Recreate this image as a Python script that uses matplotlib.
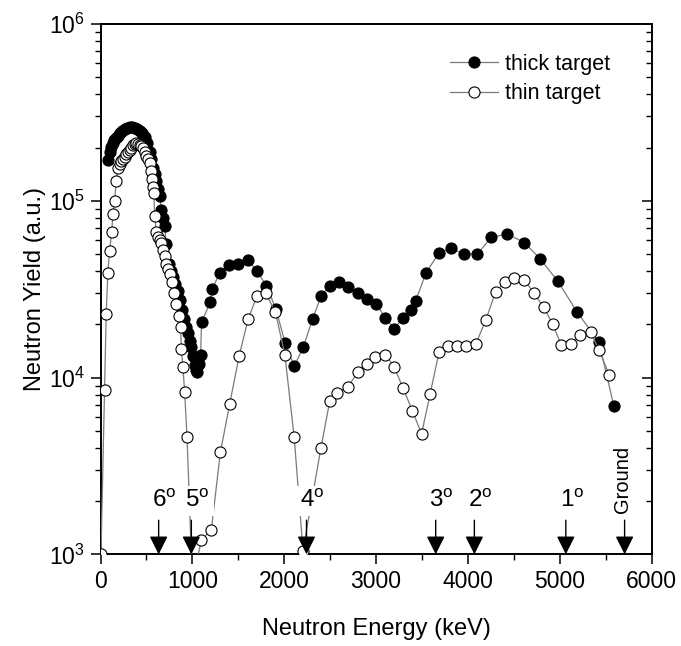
import matplotlib
matplotlib.use("Agg")
import matplotlib.pyplot as plt
from matplotlib.ticker import MultipleLocator, LogLocator, NullFormatter

plt.rcParams['font.family'] = ['Liberation Sans', 'DejaVu Sans']
plt.rcParams['mathtext.default'] = 'regular'

# neutron spectra (keV, a.u.)
thick_energy = [80, 98, 116, 134, 152, 171, 189, 207, 235, 262, 289, 316, 343, 371, 398,
                425, 452, 480, 507, 534, 552, 570, 588, 607, 625, 643, 662, 680, 698, 716,
                742, 765, 788, 815, 843, 865, 887, 910, 935, 953, 971, 989, 1007, 1025,
                1040, 1055, 1075, 1090, 1100, 1195, 1215, 1298, 1400, 1498, 1607, 1705,
                1807, 1909, 2011, 2109, 2207, 2310, 2403, 2494, 2600, 2694, 2809, 2899,
                3000, 3101, 3198, 3295, 3378, 3432, 3545, 3683, 3817, 3955, 4104, 4254,
                4429, 4616, 4787, 4981, 5187, 5429, 5590]
thick_yield = [1.70e5, 1.90e5, 2.02e5, 2.12e5, 2.20e5, 2.26e5, 2.34e5, 2.41e5, 2.49e5,
               2.55e5, 2.58e5, 2.60e5, 2.60e5, 2.57e5, 2.54e5, 2.49e5, 2.42e5, 2.31e5,
               2.12e5, 1.90e5, 1.72e5, 1.53e5, 1.41e5, 1.29e5, 1.17e5, 1.06e5, 8.9e4,
               8.0e4, 7.2e4, 5.7e4, 4.4e4, 4.0e4, 3.7e4, 3.4e4, 3.1e4, 2.75e4, 2.4e4,
               2.15e4, 1.93e4, 1.78e4, 1.62e4, 1.48e4, 1.32e4, 1.18e4, 1.10e4, 1.07e4,
               1.2e4, 1.35e4, 2.05e4, 2.67e4, 3.17e4, 3.9e4, 4.35e4, 4.4e4, 4.6e4, 4.0e4,
               3.3e4, 2.45e4, 1.57e4, 1.16e4, 1.48e4, 2.15e4, 2.9e4, 3.3e4, 3.45e4,
               3.25e4, 3.0e4, 2.8e4, 2.62e4, 2.18e4, 1.89e4, 2.18e4, 2.4e4, 2.72e4,
               3.92e4, 5.05e4, 5.4e4, 5.0e4, 5.0e4, 6.2e4, 6.5e4, 5.8e4, 4.7e4, 3.5e4,
               2.36e4, 1.58e4, 6.9e3]

thin_energy = [5, 44, 62, 80, 98, 123, 134, 153, 171, 189, 207, 225, 244, 262, 280, 298,
               316, 334, 352, 371, 389, 407, 425, 443, 462, 480, 498, 516, 534, 546, 559,
               570, 581, 589, 607, 625, 643, 662, 679, 698, 716, 734, 752, 778, 799, 826,
               851, 872, 880, 897, 916, 942, 1000, 1098, 1207, 1305, 1407, 1509, 1607,
               1705, 1800, 1905, 2007, 2109, 2205, 2400, 2497, 2580, 2694, 2802, 2899,
               2989, 3101, 3198, 3295, 3396, 3496, 3590, 3687, 3786, 3881, 3980, 4085,
               4198, 4302, 4403, 4507, 4616, 4720, 4825, 4925, 5019, 5123, 5224, 5336,
               5429, 5541]
thin_yield = [1.0e3, 8.5e3, 2.3e4, 3.9e4, 5.2e4, 6.7e4, 8.4e4, 1.0e5, 1.29e5, 1.53e5,
              1.62e5, 1.67e5, 1.73e5, 1.78e5, 1.84e5, 1.9e5, 1.95e5, 2.0e5, 2.06e5, 2.1e5,
              2.12e5, 2.1e5, 2.08e5, 2.05e5, 1.98e5, 1.9e5, 1.8e5, 1.72e5, 1.63e5, 1.48e5,
              1.32e5, 1.2e5, 1.1e5, 8.2e4, 6.7e4, 6.2e4, 6.0e4, 5.8e4, 5.3e4, 4.9e4, 4.4e4,
              4.1e4, 3.85e4, 3.45e4, 3.0e4, 2.6e4, 2.24e4, 1.93e4, 1.45e4, 1.15e4, 8.3e3,
              4.6e3, 7.0e2, 1.2e3, 1.38e3, 3.77e3, 7.1e3, 1.32e4, 2.14e4, 2.9e4, 3.0e4,
              2.34e4, 1.35e4, 4.6e3, 1.05e3, 4.0e3, 7.4e3, 8.2e3, 8.9e3, 1.07e4, 1.2e4,
              1.3e4, 1.35e4, 1.15e4, 8.7e3, 6.5e3, 4.8e3, 8.1e3, 1.4e4, 1.5e4, 1.51e4,
              1.51e4, 1.54e4, 2.13e4, 3.06e4, 3.46e4, 3.64e4, 3.57e4, 3.0e4, 2.5e4, 2.0e4,
              1.52e4, 1.55e4, 1.73e4, 1.81e4, 1.43e4, 1.03e4]

# excited state markers (keV)
state_labels = ["6$^{o}$", "5$^{o}$", "4$^{o}$", "3$^{o}$", "2$^{o}$", "1$^{o}$"]
state_energy = [633, 989, 2243, 3650, 4071, 5067]
ground_energy = 5707

fig = plt.figure(figsize=(6.81, 6.46), dpi=100)
ax = fig.add_axes([0.1476, 0.1419, 0.8091, 0.8209])

ax.plot(thick_energy, thick_yield, '-', color='#7a7a7a', lw=0.9, marker='o', ms=8,
        mfc='black', mec='black', mew=0.8, label='thick target', zorder=2)
ax.plot(thin_energy, thin_yield, '-', color='#7a7a7a', lw=0.9, marker='o', ms=8,
        mfc='white', mec='black', mew=0.8, label='thin target', zorder=3)

ax.set_yscale('log')
ax.set_xlim(0, 6000)
ax.set_ylim(1e3, 1e6)
ax.xaxis.set_major_locator(MultipleLocator(1000))
ax.xaxis.set_minor_locator(MultipleLocator(500))
ax.yaxis.set_minor_locator(LogLocator(base=10, subs=range(2, 10)))
ax.yaxis.set_minor_formatter(NullFormatter())

ax.tick_params(which='major', direction='out', length=7, width=1.1, labelsize=16.5, pad=4,
               top=False, right=False)
ax.tick_params(which='minor', direction='out', length=4.3, width=1.0, top=False, right=False)
for sp in ax.spines.values():
    sp.set_linewidth(1.4)

# mirrored inward ticks on the right
ax2 = ax.twinx()
ax2.set_yscale('log')
ax2.set_ylim(1e3, 1e6)
ax2.yaxis.set_minor_locator(LogLocator(base=10, subs=range(2, 10)))
ax2.yaxis.set_minor_formatter(NullFormatter())
ax2.tick_params(which='major', direction='in', length=7, width=1.1, labelright=False)
ax2.tick_params(which='minor', direction='in', length=4.3, width=1.0, labelright=False)
for sp in ax2.spines.values():
    sp.set_visible(False)

ax.set_xlabel('Neutron Energy (keV)', fontsize=17, labelpad=18)
ax.set_ylabel('Neutron Yield (a.u.)', fontsize=17, labelpad=2)

# arrows for the states
for lab, e in zip(state_labels, state_energy):
    ax.annotate('', xy=(e, 1e3), xytext=(e, 1.56e3),
                arrowprops=dict(arrowstyle='-|>', color='black', lw=1.0,
                                mutation_scale=28, shrinkA=0, shrinkB=0), zorder=6)
    ax.text(e + 65, 1.85e3, lab, fontsize=17.5, ha='center', va='baseline', zorder=5,
            bbox=dict(facecolor='white', edgecolor='none', pad=3))
ax.annotate('', xy=(ground_energy, 1e3), xytext=(ground_energy, 1.56e3),
            arrowprops=dict(arrowstyle='-|>', color='black', lw=1.0,
                            mutation_scale=28, shrinkA=0, shrinkB=0), zorder=6)
ax.text(ground_energy - 25, 2.67e3, 'Ground', fontsize=14.5, rotation=90,
        ha='center', va='center', zorder=5,
        bbox=dict(facecolor='white', edgecolor='none', pad=1))

ax.legend(loc='upper left', bbox_to_anchor=(0.635, 0.944), frameon=False, fontsize=15.5,
          handlelength=2.2, handletextpad=0.35, labelspacing=0.4, borderpad=0,
          borderaxespad=0)

plt.savefig('out.png', dpi=100)
